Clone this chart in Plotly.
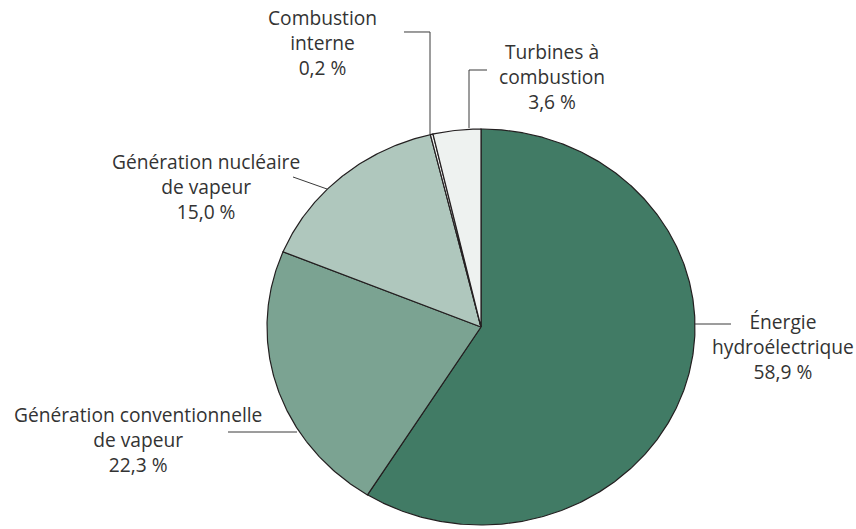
import numpy as np
import plotly.graph_objects as go

# Share of electricity generation by source (percent), clockwise from 12 o'clock
sources = [
    "Énergie hydroélectrique",
    "Génération conventionnelle de vapeur",
    "Génération nucléaire de vapeur",
    "Combustion interne",
    "Turbines à combustion",
]
shares = [58.9, 22.3, 15.0, 0.2, 3.6]
value_labels = ["58,9 %", "22,3 %", "15,0 %", "0,2 %", "3,6 %"]
label_lines = [
    ["Énergie", "hydroélectrique"],
    ["Génération conventionnelle", "de vapeur"],
    ["Génération nucléaire", "de vapeur"],
    ["Combustion", "interne"],
    ["Turbines à", "combustion"],
]
colors = ["#417B65", "#7BA392", "#AFC7BD", "#F2F4F3", "#EEF2F0"]

W, H = 856, 529
CX, CY = 481, 327      # pie centre in pixels
RX, RY = 214, 198      # horizontal / vertical radii in pixels
EDGE = "#231F20"
FONT = dict(family="'Open Sans', Lato, sans-serif", size=19.2, color="#333333")

fig = go.Figure()

# Each wedge is a filled polygon on unit-circle axes; start angle is 12 o'clock,
# going clockwise.
total = float(sum(shares))
start = 0.0
for name, val, col in zip(sources, shares, colors):
    end = start + val / total * 2 * np.pi
    n = max(4, int((end - start) / (2 * np.pi) * 720))
    t = np.linspace(start, end, n)
    xs = np.concatenate([[0.0], np.sin(t), [0.0]])
    ys = np.concatenate([[0.0], np.cos(t), [0.0]])
    fig.add_trace(go.Scatter(
        x=xs, y=ys, mode="lines", fill="toself", fillcolor=col,
        line=dict(color=EDGE, width=1.2), name=name, hoverinfo="name",
        showlegend=False,
    ))
    start = end


def px(x):
    return x / W


def py(y):
    return 1 - y / H


# Label blocks: (index, centre x, first-line y) in pixels
label_pos = [
    (0, 783, 320),
    (1, 138, 413),
    (2, 206, 160),
    (3, 322, 16),
    (4, 552, 50),
]
for i, x, y in label_pos:
    text = "<br>".join(label_lines[i] + [value_labels[i]])
    fig.add_annotation(
        x=px(x), y=py(y - 14), xref="paper", yref="paper",
        text=text, showarrow=False, xanchor="center", yanchor="top",
        align="center", font=FONT,
    )

# Leader lines (pixel polylines)
leaders = [
    [(695, 324), (731, 324)],
    [(228, 432), (297, 432)],
    [(293, 177), (327, 189)],
    [(404, 32), (430, 32), (430, 134)],
    [(487, 70), (469, 70), (469, 128)],
]
for pts in leaders:
    path = "M " + " L ".join(f"{px(a):.5f},{py(b):.5f}" for a, b in pts)
    fig.add_shape(type="path", path=path, xref="paper", yref="paper",
                  line=dict(color="#3A3A3A", width=1))

fig.update_xaxes(visible=False, range=[-CX / RX, (W - CX) / RX])
fig.update_yaxes(visible=False, range=[-(H - CY) / RY, CY / RY])
fig.update_layout(
    width=W, height=H, margin=dict(l=0, r=0, t=0, b=0),
    paper_bgcolor="white", plot_bgcolor="white",
)

fig.write_html("out.html")
